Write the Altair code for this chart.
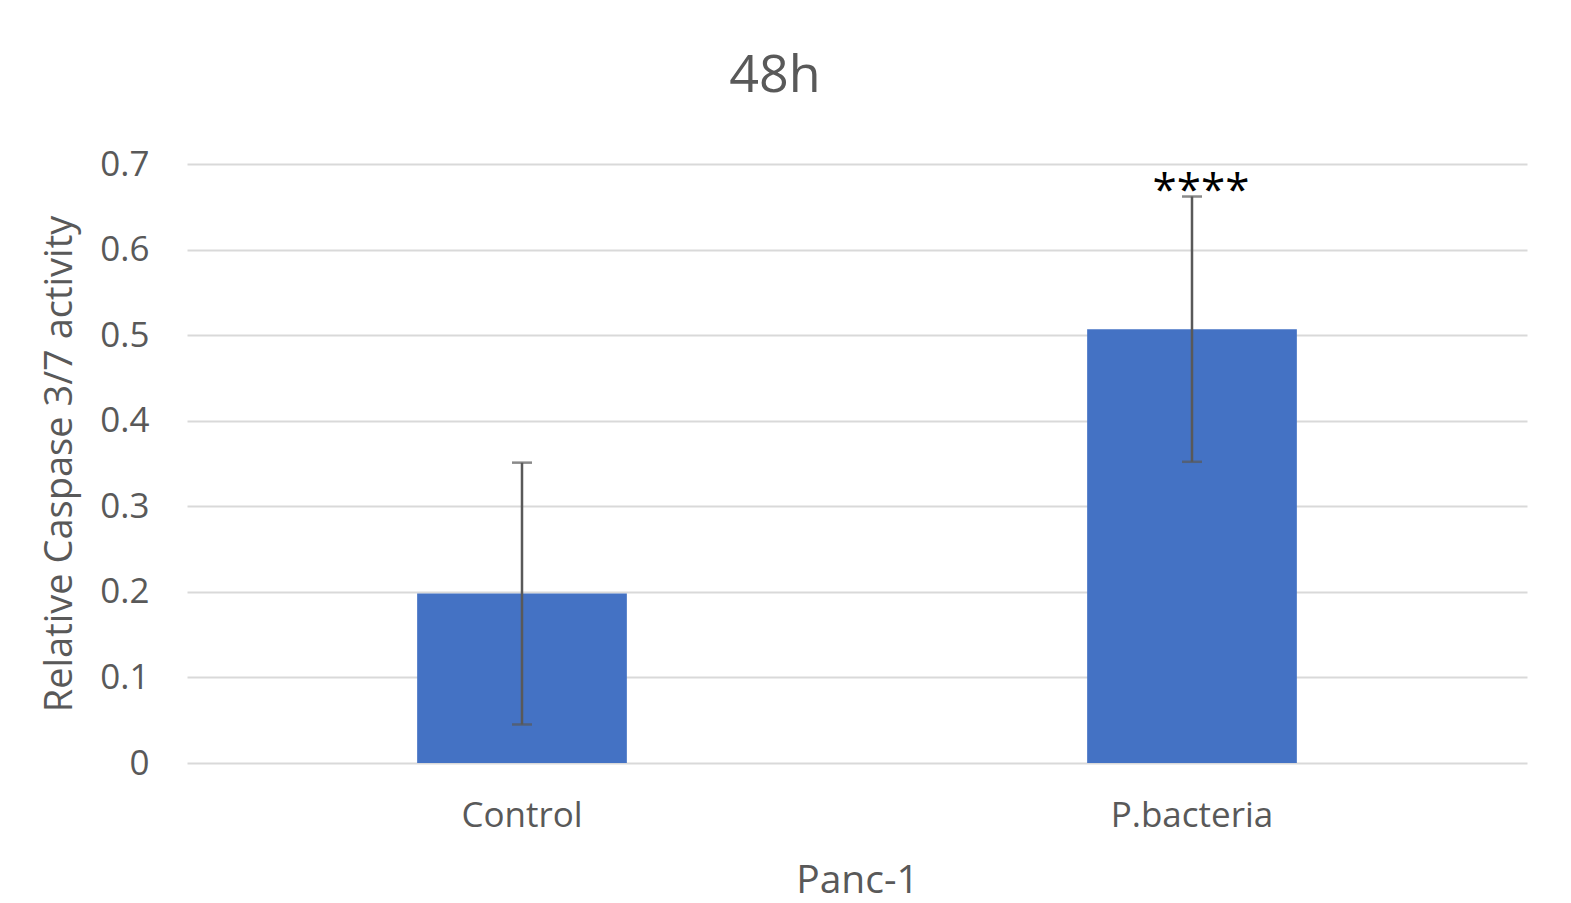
import altair as alt
import pandas as pd

categories = ["Control", "P.bacteria"]
means = [0.198, 0.507]
errors = [0.153, 0.155]
signif = ["", "****"]

df = pd.DataFrame({
    "group": categories,
    "mean": means,
    "lo": [m - e for m, e in zip(means, errors)],
    "hi": [m + e for m, e in zip(means, errors)],
    "sig": signif,
})

FONT = "Open Sans"
GREY = "#595959"

x = alt.X(
    "group:N",
    sort=categories,
    title="Panc-1",
    scale=alt.Scale(paddingInner=0.687, paddingOuter=0.3435),
    axis=alt.Axis(
        labelAngle=0, labelFontSize=35, labelColor=GREY, labelFont=FONT,
        labelPadding=35, ticks=False, domain=False,
        titleFontSize=39, titleColor=GREY, titleFont=FONT, titleFontWeight="normal",
        titlePadding=28,
    ),
)

y_scale = alt.Scale(domain=[0, 0.7], nice=False)

bars = alt.Chart(df).mark_bar(color="#4472C4").encode(
    x=x,
    y=alt.Y(
        "mean:Q",
        scale=y_scale,
        title="Relative Caspase 3/7 activity",
        axis=alt.Axis(
            values=[0, 0.1, 0.2, 0.3, 0.4, 0.5, 0.6, 0.7],
            labelExpr="datum.value == 0 ? '0' : format(datum.value, '.1f')",
            labelFontSize=35, labelColor=GREY, labelFont=FONT,
            labelPadding=38, ticks=False, domain=False,
            gridColor="#D9D9D9", gridWidth=2,
            titleFontSize=38, titleColor=GREY, titleFont=FONT, titleFontWeight="normal",
            titlePadding=20,
        ),
    ),
)

rules = alt.Chart(df).mark_rule(color=GREY, strokeWidth=2.5).encode(
    x=alt.X("group:N", sort=categories),
    y=alt.Y("lo:Q", scale=y_scale),
    y2="hi:Q",
)

caps_hi = alt.Chart(df).mark_tick(color=GREY, thickness=2.5, size=20).encode(
    x=alt.X("group:N", sort=categories),
    y=alt.Y("hi:Q", scale=y_scale),
)
caps_lo = alt.Chart(df).mark_tick(color=GREY, thickness=2.5, size=20).encode(
    x=alt.X("group:N", sort=categories),
    y=alt.Y("lo:Q", scale=y_scale),
)

stars = alt.Chart(df).mark_text(
    font=FONT, fontSize=44, color="#000000", baseline="bottom", dy=17, dx=9
).encode(
    x=alt.X("group:N", sort=categories),
    y=alt.Y("hi:Q", scale=y_scale),
    text="sig:N",
)

chart = alt.layer(bars, rules, caps_hi, caps_lo, stars).properties(
    width=1340,
    height=599,
    title=alt.TitleParams(
        "48h", fontSize=52, font=FONT, color=GREY, fontWeight="normal",
        anchor="middle", dx=-82, offset=44,
    ),
    autosize="none",
    padding={"left": 179, "top": 156, "right": 28, "bottom": 140},
).configure(background="white").configure_view(strokeWidth=0, stroke="transparent")

chart.save("out.html", embed_options={"renderer": "svg", "actions": False})
